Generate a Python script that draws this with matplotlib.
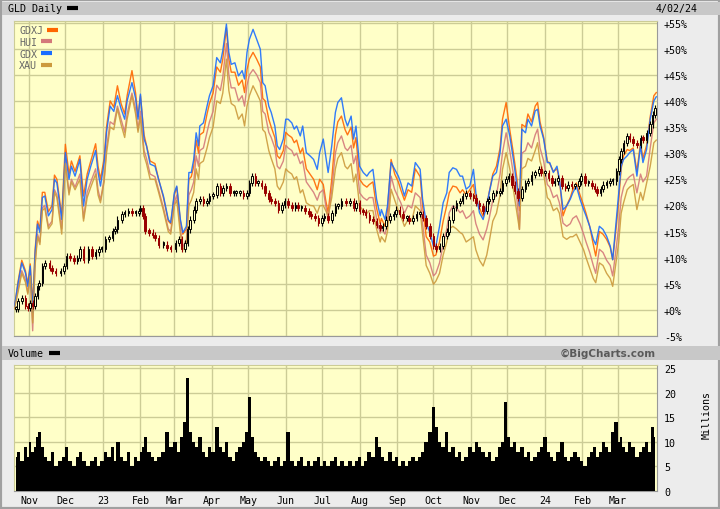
import matplotlib
matplotlib.use("Agg")
import matplotlib.pyplot as plt
from matplotlib.patches import Rectangle
from matplotlib.lines import Line2D
import numpy as np
import pandas as pd

start = pd.Timestamp("2022-10-20")

# index lines, % change from start, sampled at calendar-day offsets
line_days = [0, 3, 6, 9, 11, 13, 15, 17, 19, 21,
             23, 25, 28, 31, 33, 35, 39, 42, 45, 47,
             50, 54, 57, 60, 63, 67, 69, 71, 74, 76,
             79, 82, 85, 88, 91, 93, 97, 100, 102, 104,
             107, 109, 112, 116, 119, 123, 127, 129, 132, 134,
             137, 139, 142, 144, 146, 148, 150, 152, 153, 156,
             159, 161, 164, 167, 170, 172, 175, 177, 179, 182,
             185, 188, 190, 192, 194, 197, 200, 203, 205, 207,
             210, 212, 215, 217, 219, 222, 224, 226, 229, 231,
             233, 236, 238, 241, 244, 247, 250, 252, 255, 257,
             259, 262, 265, 267, 270, 273, 275, 278, 280, 282,
             285, 288, 291, 293, 296, 299, 302, 303, 306, 308,
             311, 314, 317, 319, 322, 325, 328, 331, 335, 337,
             340, 343, 346, 348, 351, 354, 357, 359, 362, 365,
             368, 370, 373, 376, 379, 381, 384, 387, 390, 392,
             395, 398, 401, 403, 406, 409, 412, 415, 417, 419,
             422, 424, 427, 430, 432, 434, 437, 440, 442, 445,
             448, 450, 453, 456, 459, 461, 464, 467, 470, 472,
             475, 478, 480, 483, 486, 489, 492, 494, 497, 499,
             501, 503, 506, 508, 511, 514, 517, 519, 522, 525,
             528, 530]

gdx = [0.7, 5.2, 9.0, 7.1, 4.5, 8.4, -0.5, 10.9, 16.4, 14.8,
       21.5, 21.8, 18.0, 19.2, 25.0, 24.3, 17.3, 30.1, 25.0, 27.5,
       25.6, 28.8, 19.9, 25.0, 27.5, 30.5, 26.3, 23.7, 28.2, 34.0,
       39.0, 38.0, 41.0, 38.5, 36.5, 40.0, 43.5, 40.5, 36.5, 41.3,
       32.7, 31.4, 27.9, 27.5, 25.0, 21.8, 17.3, 16.7, 22.4, 23.7,
       17.3, 14.8, 16.0, 26.3, 26.3, 28.8, 33.9, 31.4, 35.2, 35.8,
       39.0, 41.0, 42.9, 48.3, 47.3, 49.6, 54.7, 49.3, 47.0, 47.3,
       44.8, 45.8, 44.2, 49.3, 51.8, 53.7, 51.8, 49.9, 43.5, 42.9,
       39.0, 37.8, 35.2, 31.4, 30.7, 32.7, 36.5, 36.5, 35.8, 34.6,
       35.2, 33.3, 35.2, 30.1, 29.5, 28.8, 26.9, 30.1, 32.7, 29.5,
       26.3, 31.4, 37.8, 39.7, 40.6, 36.5, 35.2, 37.1, 32.7, 35.2,
       27.5, 26.3, 25.6, 26.3, 26.9, 21.2, 18.0, 19.2, 17.3, 19.9,
       28.2, 26.9, 25.6, 24.3, 21.8, 24.3, 23.7, 28.2, 26.9, 21.2,
       16.7, 14.8, 12.2, 12.2, 16.0, 20.5, 22.4, 26.3, 27.2, 26.9,
       25.6, 25.6, 23.1, 23.7, 26.9, 22.4, 18.6, 17.3, 19.9, 22.4,
       25.6, 26.3, 30.1, 35.2, 36.5, 33.3, 28.8, 23.7, 19.9, 34.6,
       33.9, 36.5, 35.2, 38.1, 38.4, 35.2, 32.7, 28.2, 28.2, 26.3,
       27.5, 25.0, 19.2, 19.9, 21.2, 22.4, 23.7, 21.2, 19.2, 18.0,
       16.0, 13.5, 12.5, 16.0, 15.4, 14.1, 12.2, 9.6, 17.3, 22.4,
       27.5, 28.8, 29.5, 30.1, 30.7, 25.6, 31.4, 28.2, 30.7, 36.5,
       40.0, 40.8]

gdxj = [0.5, 5.5, 9.5, 7.5, 5.0, 8.8, 1.0, 11.5, 17.0, 15.5,
        22.5, 22.5, 18.8, 20.0, 25.8, 25.0, 18.0, 31.7, 26.0, 28.5,
        26.5, 29.5, 21.8, 26.0, 28.5, 31.8, 27.5, 25.0, 29.0, 35.0,
        40.0, 38.8, 42.9, 39.5, 37.5, 41.0, 45.8, 41.5, 37.0, 41.0,
        33.5, 31.5, 28.5, 28.0, 25.0, 21.5, 17.0, 16.5, 22.0, 23.5,
        17.0, 14.5, 15.5, 25.0, 25.5, 27.5, 32.5, 30.0, 33.5, 34.0,
        37.5, 39.5, 41.5, 46.5, 45.5, 48.0, 54.0, 48.0, 45.5, 45.5,
        43.0, 44.0, 41.6, 46.0, 48.0, 49.3, 48.0, 46.5, 40.5, 40.0,
        36.5, 35.0, 33.0, 29.5, 29.0, 30.5, 34.0, 33.5, 33.0, 32.0,
        32.5, 30.0, 31.0, 27.0, 26.0, 25.0, 23.0, 25.0, 24.0, 21.0,
        18.6, 25.0, 33.5, 36.0, 37.1, 34.5, 33.5, 35.0, 31.0, 33.0,
        25.0, 24.0, 23.5, 24.0, 24.5, 19.5, 16.5, 17.5, 16.0, 19.0,
        28.8, 26.0, 24.5, 23.0, 21.0, 23.0, 22.5, 27.0, 25.5, 20.0,
        14.0, 13.0, 10.3, 10.5, 13.0, 17.0, 20.0, 22.4, 23.7, 23.5,
        22.4, 23.0, 22.0, 23.0, 24.0, 21.0, 19.5, 17.9, 20.0, 22.5,
        26.0, 27.5, 31.0, 36.5, 39.7, 34.5, 30.0, 25.0, 19.0, 35.5,
        35.0, 37.5, 36.0, 39.0, 39.7, 36.0, 33.0, 28.5, 28.0, 26.5,
        27.0, 25.0, 18.0, 20.0, 21.5, 23.0, 24.3, 22.0, 20.0, 18.5,
        16.0, 12.5, 10.3, 15.0, 14.5, 13.5, 12.0, 9.6, 16.0, 21.0,
        27.0, 29.5, 30.7, 30.5, 31.0, 26.5, 32.0, 29.0, 31.5, 37.0,
        41.0, 41.6]

hui = [0.3, 4.0, 7.5, 5.8, 3.3, 7.0, -4.0, 9.0, 14.5, 13.0,
       19.5, 20.0, 16.0, 17.0, 23.0, 22.0, 15.5, 28.5, 22.5, 25.0,
       23.5, 26.0, 17.5, 22.5, 24.5, 27.0, 23.0, 21.0, 25.0, 31.0,
       36.0, 35.5, 39.0, 36.5, 34.0, 37.5, 41.5, 38.5, 34.5, 38.0,
       30.5, 29.0, 26.0, 25.5, 23.0, 19.5, 15.5, 15.0, 20.5, 22.0,
       15.5, 12.0, 13.5, 22.0, 23.0, 24.5, 29.5, 27.5, 30.5, 31.0,
       34.0, 36.0, 38.0, 43.0, 42.0, 44.5, 51.0, 45.0, 42.5, 42.5,
       40.0, 41.0, 39.0, 43.0, 45.0, 46.0, 45.0, 43.5, 38.0, 37.5,
       34.0, 33.0, 31.0, 27.5, 27.0, 28.5, 31.5, 31.0, 30.5, 29.5,
       30.0, 28.0, 28.5, 24.5, 23.5, 22.5, 21.0, 22.4, 23.0, 20.0,
       17.3, 23.0, 30.0, 32.0, 33.3, 31.0, 30.5, 31.5, 28.0, 29.5,
       22.4, 21.5, 21.0, 21.5, 21.5, 17.5, 14.7, 15.5, 14.5, 16.5,
       25.6, 23.0, 21.5, 20.5, 18.5, 20.0, 19.5, 22.4, 21.5, 16.5,
       10.5, 9.0, 6.5, 7.0, 9.0, 12.5, 15.5, 18.6, 19.9, 19.5,
       18.6, 19.0, 17.5, 18.0, 19.0, 16.5, 14.5, 13.4, 15.5, 17.5,
       21.0, 22.0, 26.0, 30.1, 33.9, 30.5, 26.0, 21.0, 15.4, 30.0,
       30.5, 32.0, 31.0, 33.5, 34.6, 31.0, 28.5, 24.0, 23.5, 21.5,
       22.0, 20.5, 16.6, 16.0, 16.5, 17.5, 18.0, 16.5, 14.5, 13.0,
       11.0, 8.5, 7.0, 11.6, 11.0, 9.5, 8.5, 6.5, 12.0, 16.0,
       21.5, 23.5, 25.0, 25.5, 26.0, 22.4, 26.0, 24.5, 25.6, 31.0,
       35.8, 36.5]

xau = [0.2, 3.5, 7.0, 5.3, 3.0, 6.5, -2.5, 8.5, 14.0, 12.5,
       19.0, 19.5, 15.5, 16.5, 22.5, 21.5, 14.5, 28.0, 22.0, 24.5,
       23.0, 25.0, 17.0, 21.5, 23.5, 26.0, 22.0, 20.5, 24.5, 30.0,
       35.0, 34.5, 38.5, 35.5, 33.0, 36.5, 41.0, 37.5, 34.0, 37.0,
       29.5, 28.0, 25.0, 25.0, 22.5, 19.0, 15.0, 14.5, 20.0, 21.0,
       14.5, 11.5, 12.5, 20.0, 21.0, 22.5, 27.0, 25.0, 28.0, 28.5,
       31.0, 33.0, 35.0, 40.0, 39.5, 41.5, 48.0, 42.0, 39.5, 39.0,
       36.5, 37.5, 35.2, 39.0, 41.0, 42.9, 41.5, 40.0, 34.5, 34.0,
       30.5, 29.0, 27.0, 23.7, 23.0, 24.5, 27.0, 26.5, 26.0, 25.0,
       25.5, 22.4, 23.0, 20.5, 20.0, 19.9, 18.5, 19.9, 20.0, 19.0,
       18.0, 21.5, 27.0, 29.0, 30.1, 27.5, 27.0, 28.0, 24.5, 26.0,
       19.9, 19.0, 18.5, 19.0, 19.0, 15.5, 13.0, 14.0, 13.0, 15.0,
       23.1, 21.0, 19.0, 18.0, 16.0, 17.3, 17.0, 19.9, 19.0, 14.5,
       8.5, 7.0, 4.9, 5.5, 7.0, 10.5, 13.0, 15.5, 16.0, 15.5,
       14.8, 14.5, 13.0, 13.5, 14.0, 11.5, 9.5, 8.4, 10.5, 13.0,
       17.0, 18.5, 22.0, 26.9, 30.1, 27.0, 23.0, 18.5, 15.4, 27.0,
       27.5, 29.0, 28.5, 30.5, 32.0, 28.5, 26.0, 21.5, 21.0, 19.0,
       19.5, 18.5, 14.0, 13.5, 14.0, 14.0, 14.5, 13.0, 11.5, 10.0,
       8.0, 6.0, 5.2, 9.0, 8.5, 7.0, 6.0, 4.5, 9.5, 13.0,
       18.5, 20.5, 23.0, 23.5, 24.0, 19.2, 22.5, 21.0, 24.3, 27.5,
       32.0, 32.5]

# GLD closes (% change) and volume (millions)
gld_days = [1, 3, 6, 9, 11, 13, 15, 17, 19, 20,
            23, 25, 29, 31, 34, 38, 41, 43, 46, 49,
            52, 54, 57, 61, 64, 67, 70, 72, 75, 78,
            81, 83, 85, 89, 91, 94, 97, 100, 103, 104,
            106, 108, 111, 114, 116, 119, 123, 126, 129, 133,
            136, 138, 141, 143, 145, 148, 150, 153, 156, 159,
            161, 164, 167, 170, 172, 175, 178, 181, 183, 186,
            189, 192, 194, 196, 199, 201, 204, 207, 210, 212,
            215, 218, 221, 223, 226, 229, 232, 234, 237, 240,
            243, 245, 248, 251, 254, 256, 259, 262, 265, 267,
            270, 274, 277, 280, 282, 285, 288, 290, 293, 296,
            299, 302, 304, 307, 310, 313, 315, 318, 321, 324,
            326, 329, 332, 335, 337, 340, 343, 346, 348, 351,
            354, 357, 359, 362, 365, 368, 370, 373, 376, 379,
            381, 384, 387, 390, 392, 395, 398, 401, 403, 406,
            408, 411, 413, 416, 419, 422, 424, 427, 430, 433,
            435, 438, 441, 444, 446, 449, 452, 455, 457, 460,
            463, 466, 468, 471, 474, 477, 479, 481, 484, 486,
            489, 492, 494, 497, 499, 501, 503, 506, 508, 511,
            514, 517, 519, 522, 525, 527, 529]

gld = [0.1, 1.7, 2.3, 0.7, 0.4, 1.3, 0.7, 2.6, 4.5, 5.2,
       8.4, 9.0, 8.0, 7.4, 7.1, 7.4, 8.4, 10.3, 10.0, 9.3,
       10.0, 11.6, 9.6, 11.6, 10.3, 11.0, 11.6, 11.6, 13.5, 13.8,
       15.1, 15.4, 17.3, 18.3, 18.6, 18.9, 18.6, 18.6, 18.9, 19.5,
       18.0, 15.1, 14.8, 14.4, 13.8, 12.5, 12.5, 11.9, 11.6, 12.8,
       13.5, 11.6, 12.8, 15.4, 17.3, 19.2, 20.8, 21.2, 20.5, 20.8,
       21.8, 22.0, 23.7, 22.4, 23.4, 23.7, 22.4, 22.4, 22.4, 22.4,
       21.8, 22.4, 24.3, 25.6, 24.3, 24.3, 23.7, 22.4, 21.2, 20.8,
       20.5, 19.2, 20.1, 20.8, 20.1, 19.5, 20.1, 19.5, 19.5, 18.9,
       18.3, 18.0, 17.6, 16.7, 17.6, 18.0, 17.3, 18.6, 19.9, 19.9,
       20.8, 20.5, 20.8, 19.5, 20.5, 18.9, 18.7, 18.2, 17.3, 17.0,
       16.3, 15.7, 16.0, 17.3, 17.9, 18.3, 19.2, 18.3, 17.6, 17.6,
       17.0, 17.6, 18.3, 18.3, 17.6, 16.0, 14.1, 12.2, 11.6, 12.2,
       14.1, 15.0, 17.3, 19.5, 20.5, 20.8, 21.8, 22.4, 21.8, 21.5,
       20.5, 19.9, 18.9, 20.8, 21.2, 22.4, 22.4, 22.7, 24.3, 25.0,
       25.6, 24.0, 22.7, 21.5, 23.1, 24.3, 24.6, 25.9, 26.2, 26.9,
       26.2, 26.2, 25.3, 24.3, 24.6, 25.3, 23.7, 23.4, 24.0, 23.7,
       23.7, 24.6, 25.6, 24.3, 24.3, 23.7, 23.1, 22.4, 23.1, 24.0,
       24.3, 24.6, 24.6, 26.5, 28.8, 30.4, 32.0, 33.3, 32.7, 32.0,
       31.6, 32.9, 32.6, 33.9, 35.5, 37.4, 38.7]

volume = [7, 8, 6, 9, 7, 10, 8, 9, 11, 12,
          9, 7, 6, 8, 5, 6, 7, 9, 6, 5,
          7, 8, 6, 5, 6, 7, 5, 6, 8, 7,
          9, 6, 10, 7, 6, 8, 5, 7, 6, 8,
          9, 11, 8, 7, 6, 7, 8, 12, 9, 10,
          8, 11, 14, 23, 12, 10, 9, 11, 8, 7,
          9, 8, 13, 9, 8, 10, 7, 6, 8, 9,
          10, 12, 19, 11, 8, 7, 6, 7, 6, 5,
          6, 7, 5, 6, 12, 6, 5, 6, 7, 5,
          6, 5, 6, 7, 5, 6, 5, 6, 7, 5,
          6, 5, 6, 5, 6, 7, 5, 6, 8, 7,
          11, 9, 7, 6, 8, 6, 7, 5, 6, 5,
          6, 7, 6, 7, 8, 10, 12, 17, 13, 10,
          9, 12, 8, 9, 7, 8, 6, 7, 9, 8,
          10, 9, 8, 7, 8, 6, 7, 9, 10, 18,
          11, 9, 10, 8, 9, 7, 8, 6, 7, 8,
          9, 11, 8, 7, 6, 8, 10, 7, 6, 7,
          8, 7, 6, 5, 7, 8, 9, 7, 8, 10,
          9, 8, 12, 14, 10, 11, 9, 8, 10, 9,
          7, 8, 9, 10, 8, 13, 11]

series_names = ["GDXJ", "HUI", "GDX", "XAU"]
series_colors = ["#ff6600", "#d4797a", "#1a6dff", "#cc9a3d"]
month_labels = ["Nov", "Dec", "23", "Feb", "Mar", "Apr", "May", "Jun", "Jul",
                "Aug", "Sep", "Oct", "Nov", "Dec", "24", "Feb", "Mar"]
pct_ticks = list(range(-5, 60, 5))
vol_ticks = [0, 5, 10, 15, 20, 25]

W, H = 720, 510
BG = "#ffffc8"
GRID = "#cccc96"
MONO = "DejaVu Sans Mono"


def fx(x):
    return x / W


def fy(y):
    return 1 - y / H


line_dates = start + pd.to_timedelta(line_days, unit="D")
gld_dates = start + pd.to_timedelta(gld_days, unit="D")
month_starts = pd.date_range("2022-11-01", "2024-03-01", freq="MS")
x0 = start - pd.Timedelta(hours=10)
x1 = start + pd.Timedelta(days=530.6)

fig = plt.figure(figsize=(W / 100, H / 100), dpi=100)
fig.patch.set_facecolor("#ececec")

# frame and grey title bands
fig.patches.append(Rectangle((0, 0), 1, 1, transform=fig.transFigure,
                             facecolor="none", edgecolor="#a0a0a0", lw=3))
for ya, yb in [(3, 16), (347, 361)]:
    fig.patches.append(Rectangle((fx(2), fy(yb)), 1, (yb - ya) / H,
                                 transform=fig.transFigure,
                                 facecolor="#c8c8c8", edgecolor="none"))

ax = fig.add_axes([fx(14), fy(337), fx(657 - 14), (337 - 22) / H])
vax = fig.add_axes([fx(14), fy(492), fx(657 - 14), (492 - 366) / H])

for a in (ax, vax):
    a.set_facecolor(BG)
    a.set_axisbelow(True)
    a.set_xlim(x0, x1)
    a.set_xticks(month_starts)
    a.grid(True, color=GRID, lw=1)
    a.yaxis.tick_right()
    a.tick_params(length=0, labelsize=7.2, pad=5)
    for s in ["left", "top"]:
        a.spines[s].set_color(GRID)
    for s in ["right", "bottom"]:
        a.spines[s].set_color("#999999")
    for lab in a.get_yticklabels():
        lab.set_family(MONO)

# price panel
ax.set_ylim(-5, 55.3)
ax.set_yticks(pct_ticks)
ax.set_yticklabels([("+%d%%" % t) if t >= 0 else ("%d%%" % t) for t in pct_ticks],
                   family=MONO)
ax.set_xticklabels([])

for name, vals, col in zip(series_names, [gdxj, hui, gdx, xau], series_colors):
    ax.plot(line_dates, vals, color=col, lw=1.0, alpha=0.9, zorder=3)

# GLD candles built from consecutive closes
gld_arr = np.array(gld)
opens = np.concatenate([[gld_arr[0]], gld_arr[:-1]])
lo = np.minimum(opens, gld_arr)
hi = np.maximum(opens, gld_arr)
up = gld_arr >= opens
cols = np.where(up, "black", "#990000")
ax.vlines(gld_dates, lo - 0.6, hi + 0.6, colors=cols, lw=0.8, zorder=4)
ax.bar(gld_dates, np.maximum(hi - lo, 0.4), bottom=lo, width=1.3,
       facecolor=np.where(up, BG, "#990000"), edgecolor=cols, lw=0.7, zorder=5)

# volume panel
vax.fill_between(gld_dates, volume, step="mid", color="black", lw=0, zorder=3)
vax.set_ylim(0, 25.6)
vax.set_yticks(vol_ticks)
vax.set_yticklabels([str(t) for t in vol_ticks], family=MONO)
vax.set_xticklabels(month_labels, family=MONO, fontsize=7.2)
vax.tick_params(axis="x", pad=3)

# header texts
fig.text(fx(8), fy(9.5), "GLD Daily", family=MONO, fontsize=7.2, va="center")
fig.lines.append(Line2D([fx(67), fx(78)], [fy(8.5), fy(8.5)], transform=fig.transFigure,
                        color="black", lw=3, solid_capstyle="butt"))
fig.text(fx(698), fy(9), "4/02/24", family=MONO, fontsize=7.2, va="center", ha="right")

fig.text(fx(8), fy(354.5), "Volume", family=MONO, fontsize=7.2, va="center")
fig.lines.append(Line2D([fx(49), fx(60)], [fy(354), fy(354)], transform=fig.transFigure,
                        color="black", lw=3, solid_capstyle="butt"))
fig.text(fx(656), fy(354), "\u00a9BigCharts.com", fontsize=7.5, weight="bold",
         color="#5a5a5a", va="center", ha="right", family="DejaVu Sans")
fig.text(fx(707), fy(415), "Millions", family=MONO, fontsize=7.2, rotation=90,
         va="center", ha="center")

# legend inside the price panel
for i, (name, col) in enumerate(zip(series_names, series_colors)):
    yy = 31 + i * 11.8
    fig.text(fx(19), fy(yy), name, family=MONO, fontsize=7.2, color="#666666", va="center")
    xs = 19 + len(name) * 5.9 + 4
    fig.lines.append(Line2D([fx(xs), fx(xs + 11)], [fy(yy - 0.5), fy(yy - 0.5)],
                            transform=fig.transFigure, color=col, lw=3,
                            solid_capstyle="butt"))

fig.savefig("out.png", dpi=100, facecolor=fig.get_facecolor())
